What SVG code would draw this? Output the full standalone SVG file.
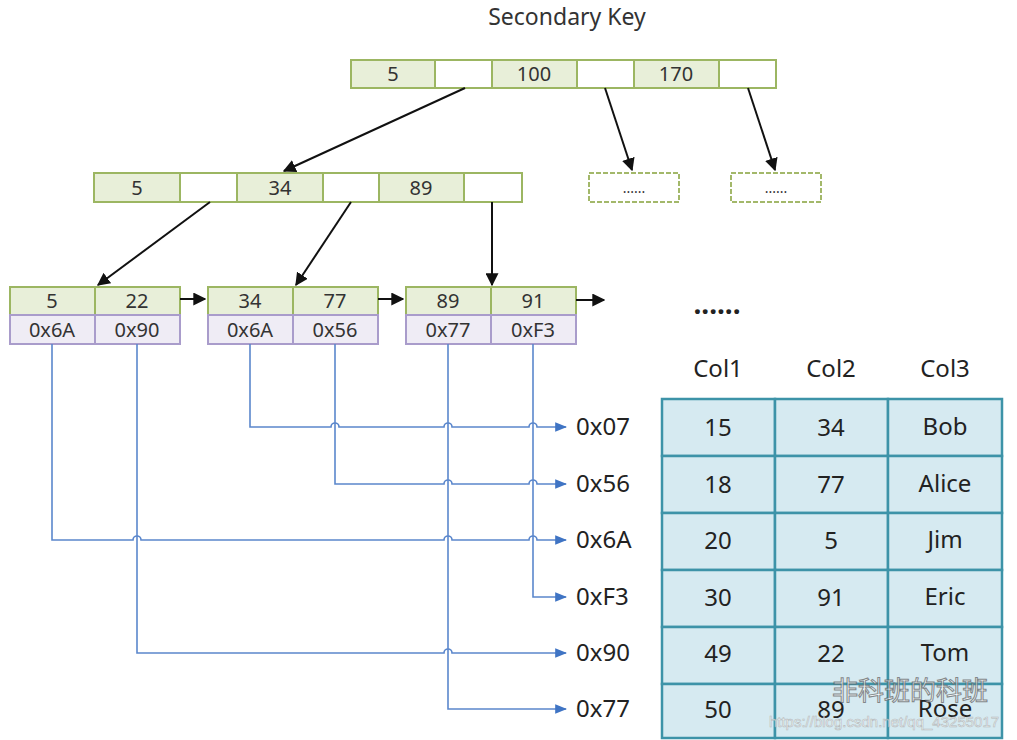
<svg xmlns="http://www.w3.org/2000/svg" width="1017" height="740" viewBox="0 0 1017 740">
<defs>
<marker id="ab" viewBox="0 0 10 10" refX="9" refY="5" markerWidth="6.5" markerHeight="6.5" orient="auto" markerUnits="strokeWidth"><path d="M0,0 L10,5 L0,10 z" fill="#111"/></marker>
<marker id="au" viewBox="0 0 10 10" refX="9" refY="5" markerWidth="7.5" markerHeight="7.5" orient="auto" markerUnits="strokeWidth"><path d="M0,1 L10,5 L0,9 z" fill="#3f74c4"/></marker>
</defs>
<style>
text{font-family:"Noto Sans","Open Sans","Liberation Sans",sans-serif;fill:#333;text-anchor:middle}
.g{fill:#e8efd9;stroke:#9cb662;stroke-width:2}
.w{fill:#fff;stroke:#9cb662;stroke-width:2}
.p{fill:#efecf5;stroke:#a99ccb;stroke-width:2}
.d{fill:#fff;stroke:#a3b86a;stroke-width:2;stroke-dasharray:5,2}
.k{font-size:20px}
.h{font-size:20px}
.t{fill:#d6eaf1;stroke:#3d93a8;stroke-width:2.5}
.tt{font-size:24px;fill:#222}
.lb{font-size:24px;fill:#222;text-anchor:start}
.bk{stroke:#111;stroke-width:2;fill:none;marker-end:url(#ab)}
.ba{stroke:#5b87cc;stroke-width:1.6;fill:none;marker-end:url(#au)}
</style>
<rect width="1017" height="740" fill="#fff"/>
<text x="567" y="25" style="font-size:23px;fill:#333">Secondary Key</text>

<g id="root">
<rect class="g" x="351" y="60" width="84" height="28"/><text class="k" x="393" y="81">5</text>
<rect class="w" x="435" y="60" width="57" height="28"/>
<rect class="g" x="492" y="60" width="85" height="28"/><text class="k" x="534" y="81">100</text>
<rect class="w" x="577" y="60" width="57" height="28"/>
<rect class="g" x="634" y="60" width="85" height="28"/><text class="k" x="676" y="81">170</text>
<rect class="w" x="719" y="60" width="57" height="28"/>
</g>

<g id="mid">
<rect class="g" x="94" y="173" width="86" height="29"/><text class="k" x="137" y="195">5</text>
<rect class="w" x="180" y="173" width="57" height="29"/>
<rect class="g" x="237" y="173" width="86" height="29"/><text class="k" x="280" y="195">34</text>
<rect class="w" x="323" y="173" width="56" height="29"/>
<rect class="g" x="379" y="173" width="85" height="29"/><text class="k" x="421" y="195">89</text>
<rect class="w" x="464" y="173" width="58" height="29"/>
</g>

<g id="more1"><rect class="d" x="589" y="173" width="90" height="29"/><text x="634" y="193" style="font-size:14px">......</text></g>
<g id="more2"><rect class="d" x="731" y="173" width="90" height="29"/><text x="776" y="193" style="font-size:14px">......</text></g>

<g id="leaf1">
<rect class="g" x="10" y="287" width="85" height="28"/><text class="k" x="52" y="308">5</text>
<rect class="g" x="95" y="287" width="85" height="28"/><text class="k" x="137" y="308">22</text>
<rect class="p" x="10" y="315" width="85" height="29"/><text class="h" x="52" y="337">0x6A</text>
<rect class="p" x="95" y="315" width="85" height="29"/><text class="h" x="137" y="337">0x90</text>
</g>
<g id="leaf2">
<rect class="g" x="208" y="287" width="85" height="28"/><text class="k" x="250" y="308">34</text>
<rect class="g" x="293" y="287" width="85" height="28"/><text class="k" x="335" y="308">77</text>
<rect class="p" x="208" y="315" width="85" height="29"/><text class="h" x="250" y="337">0x6A</text>
<rect class="p" x="293" y="315" width="85" height="29"/><text class="h" x="335" y="337">0x56</text>
</g>
<g id="leaf3">
<rect class="g" x="406" y="287" width="85" height="28"/><text class="k" x="448" y="308">89</text>
<rect class="g" x="491" y="287" width="85" height="28"/><text class="k" x="533" y="308">91</text>
<rect class="p" x="406" y="315" width="85" height="29"/><text class="h" x="448" y="337">0x77</text>
<rect class="p" x="491" y="315" width="85" height="29"/><text class="h" x="533" y="337">0xF3</text>
</g>
<text x="717" y="314" style="font-size:28px;font-weight:bold;fill:#222">......</text>

<g id="connectors">
<line class="bk" x1="465" y1="88" x2="284" y2="171"/>
<line class="bk" x1="605" y1="88" x2="632" y2="170"/>
<line class="bk" x1="748" y1="88" x2="775" y2="170"/>
<line class="bk" x1="210" y1="202" x2="98" y2="285"/>
<line class="bk" x1="351" y1="202" x2="296" y2="285"/>
<line class="bk" x1="492" y1="202" x2="492" y2="285"/>
<line class="bk" x1="180" y1="299" x2="205" y2="299"/>
<line class="bk" x1="378" y1="299" x2="403" y2="299"/>
<line class="bk" x1="576" y1="300" x2="604" y2="300"/>

<path class="ba" d="M250,344 V427 H331 A4,4 0 0 1 339,427 H444 A4,4 0 0 1 452,427 H529 A4,4 0 0 1 537,427 H566"/>
<path class="ba" d="M335,344 V484 H444 A4,4 0 0 1 452,484 H529 A4,4 0 0 1 537,484 H566"/>
<path class="ba" d="M52,344 V540 H133 A4,4 0 0 1 141,540 H444 A4,4 0 0 1 452,540 H529 A4,4 0 0 1 537,540 H566"/>
<path class="ba" d="M533,344 V597 H566"/>
<path class="ba" d="M137,344 V653 H444 A4,4 0 0 1 452,653 H566"/>
<path class="ba" d="M448,344 V709 H566"/>
</g>

<g id="labels">
<text class="lb" x="576" y="435">0x07</text>
<text class="lb" x="576" y="492">0x56</text>
<text class="lb" x="576" y="548">0x6A</text>
<text class="lb" x="576" y="605">0xF3</text>
<text class="lb" x="576" y="661">0x90</text>
<text class="lb" x="576" y="717">0x77</text>
</g>

<g id="table">
<text class="tt" x="718" y="377">Col1</text>
<text class="tt" x="831" y="377">Col2</text>
<text class="tt" x="945" y="377">Col3</text>
<rect class="t" x="662" y="399" width="113" height="57"/><rect class="t" x="775" y="399" width="113" height="57"/><rect class="t" x="888" y="399" width="114" height="57"/>
<rect class="t" x="662" y="456" width="113" height="57"/><rect class="t" x="775" y="456" width="113" height="57"/><rect class="t" x="888" y="456" width="114" height="57"/>
<rect class="t" x="662" y="513" width="113" height="57"/><rect class="t" x="775" y="513" width="113" height="57"/><rect class="t" x="888" y="513" width="114" height="57"/>
<rect class="t" x="662" y="570" width="113" height="57"/><rect class="t" x="775" y="570" width="113" height="57"/><rect class="t" x="888" y="570" width="114" height="57"/>
<rect class="t" x="662" y="627" width="113" height="57"/><rect class="t" x="775" y="627" width="113" height="57"/><rect class="t" x="888" y="627" width="114" height="57"/>
<rect class="t" x="662" y="684" width="113" height="54"/><rect class="t" x="775" y="684" width="113" height="54"/><rect class="t" x="888" y="684" width="114" height="54"/>
<text class="tt" x="718" y="436">15</text><text class="tt" x="831" y="436">34</text><text class="tt" x="945" y="435">Bob</text>
<text class="tt" x="718" y="493">18</text><text class="tt" x="831" y="493">77</text><text class="tt" x="945" y="492">Alice</text>
<text class="tt" x="718" y="549">20</text><text class="tt" x="831" y="549">5</text><text class="tt" x="945" y="548">Jim</text>
<text class="tt" x="718" y="606">30</text><text class="tt" x="831" y="606">91</text><text class="tt" x="945" y="605">Eric</text>
<text class="tt" x="718" y="662">49</text><text class="tt" x="831" y="662">22</text><text class="tt" x="945" y="661">Tom</text>
<text class="tt" x="718" y="718">50</text><text class="tt" x="831" y="718">89</text><text class="tt" x="945" y="717">Rose</text>
</g>

<g id="watermark" opacity="0.75">
<text x="910" y="700" style="font-family:'Noto Sans CJK SC',sans-serif;font-size:26px;fill:#fff;stroke:#666;stroke-width:1">非科班的科班</text>
<text x="884" y="727" style="font-family:'Liberation Sans',sans-serif;font-size:15px;fill:#fff;stroke:#aaa;stroke-width:0.6">https://blog.csdn.net/qq_43255017</text>
</g>
</svg>
